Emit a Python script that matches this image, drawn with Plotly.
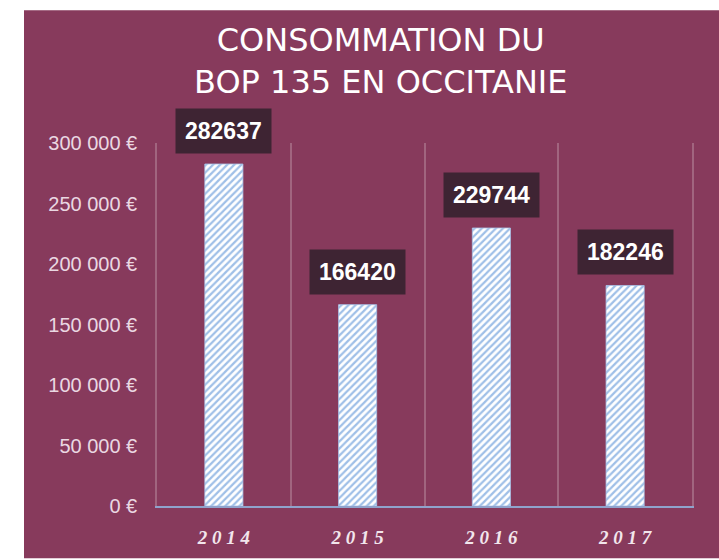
import plotly.graph_objects as go

years = ["2014", "2015", "2016", "2017"]
year_labels = ["2 0 1 4", "2 0 1 5", "2 0 1 6", "2 0 1 7"]
values = [282637, 166420, 229744, 182246]
y_ticks = [0, 50000, 100000, 150000, 200000, 250000, 300000]
y_tick_labels = ["0 €", "50 000 €", "100 000 €", "150 000 €", "200 000 €", "250 000 €", "300 000 €"]
title_lines = ["CONSOMMATION DU", "BOP 135 EN OCCITANIE"]

PURPLE = "#873a5c"
GRID = "rgba(255,255,255,0.22)"
W, H = 719, 560
L, R, T, B = 157, 27, 143, 48
pw, ph = W - L - R, H - T - B

fig = go.Figure()
fig.add_trace(go.Bar(
    x=years, y=values, width=0.285,
    marker=dict(color="white",
                pattern=dict(shape="/", fgcolor="#3f80d0", bgcolor="white", size=5, solidity=0.45),
                line=dict(color="#a9c4ea", width=0.8)),
    hoverinfo="skip",
))

for i, v in enumerate(values):
    fig.add_annotation(x=i, y=v, xref="x", yref="y", text=f"<b>{v}</b>", showarrow=False,
                       yanchor="bottom", yshift=10, bgcolor="#3e2433", borderpad=9,
                       font=dict(family="Liberation Sans, Arial", size=23, color="white"))

# title
fig.add_annotation(text="<br>".join(title_lines), xref="paper", yref="paper",
                   x=(380 - L) / pw, y=(H - B - 17) / ph, xanchor="center", yanchor="top",
                   showarrow=False, align="center",
                   font=dict(family="DejaVu Sans", size=32, color="white"))

# purple background panel
fig.add_shape(type="rect", xref="paper", yref="paper",
              x0=(24 - L) / pw, x1=(W + 5 - L) / pw,
              y0=(H - B - (H + 5)) / ph, y1=(H - B - 8) / ph,
              fillcolor=PURPLE, line=dict(width=0), layer="below")

fig.update_layout(
    width=W, height=H,
    margin=dict(l=L, r=R, t=T, b=B),
    paper_bgcolor="white", plot_bgcolor="rgba(0,0,0,0)",
    showlegend=False,
    xaxis=dict(type="category", tickmode="array", tickvals=years, ticktext=year_labels,
               tickson="boundaries", showgrid=True, gridcolor=GRID, gridwidth=1.5,
               showline=True, linecolor="#8fa3cc", linewidth=2, ticks="",
               ticklabelstandoff=13,
               tickfont=dict(family="Liberation Serif, serif", size=19, color="#f2e6ec",
                             weight="bold", style="italic"),
               range=[-0.5, 3.5], zeroline=False),
    yaxis=dict(range=[0, 300000], tickmode="array", tickvals=y_ticks, ticktext=y_tick_labels,
               showgrid=False, zeroline=False, showline=True, mirror=True,
               linecolor=GRID, linewidth=1.5, ticks="",
               ticklabelstandoff=14,
               tickfont=dict(family="Liberation Sans, Arial", size=20, color="#ead8e2")),
)

fig.write_html("out.html")
